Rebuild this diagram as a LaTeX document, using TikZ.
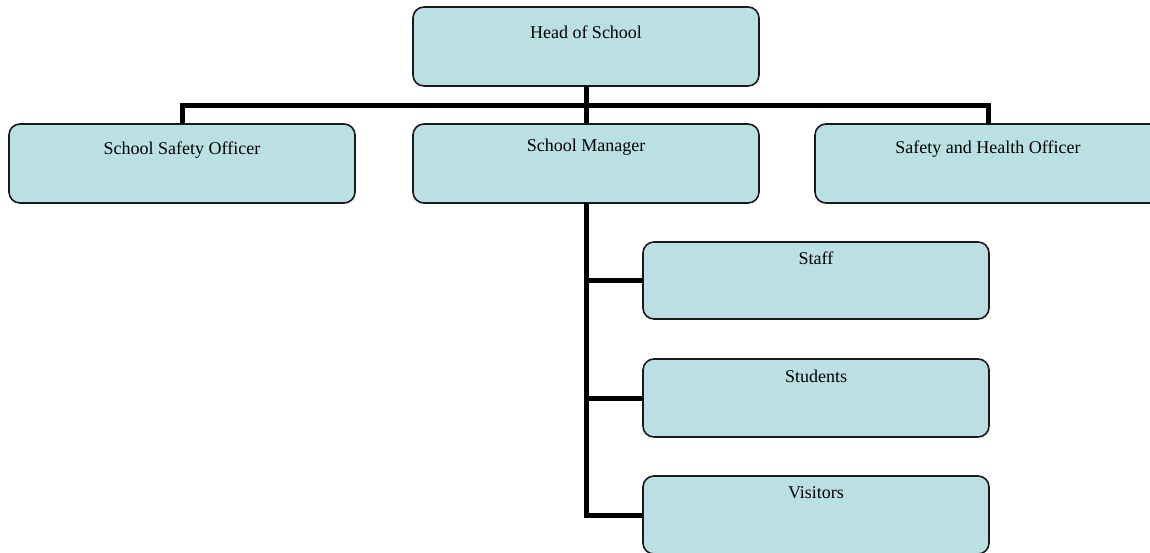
\documentclass[tikz,border=0pt]{standalone}
\usepackage{fontspec}
\setmainfont{Liberation Serif}
\definecolor{boxfill}{RGB}{186,224,228}
\begin{document}
\begin{tikzpicture}[x=1pt,y=1pt,
  orgbox/.style={draw=black!90, line width=1.6pt, fill=boxfill, rounded corners=11pt,
    minimum width=346pt, inner sep=0pt, outer sep=0pt},
  lbl/.style={font=\fontsize{18}{21}\selectfont, inner sep=0pt, anchor=center},
  conn/.style={line width=5pt, line join=miter, line cap=butt}]
\useasboundingbox (0,0) rectangle (1150,-552);
\clip (0,0) rectangle (1150,-552);
% connectors first (behind boxes)
\coordinate (bus) at (587,-105.5);
% boxes
\node[orgbox, minimum height=79pt] (hos) at (586,-46.5) {};
\node[orgbox, minimum height=79pt] (sso) at (182,-163.5) {};
\node[orgbox, minimum height=79pt] (sm) at (586,-163.5) {};
\node[orgbox, minimum height=79pt] (sho) at (988,-163.5) {};
\node[orgbox, minimum height=77pt] (staff) at (816,-280.5) {};
\node[orgbox, minimum height=78pt] (students) at (816,-398) {};
\node[orgbox, minimum height=78pt] (visitors) at (816,-515) {};
% connectors
\draw[conn] (hos.south) -- (sm.north);
\draw[conn] (sso.north) |- (bus) -| (sho.north);
\draw[conn] (sm.south) |- (visitors.west);
\draw[conn] (sm.south |- staff.west) -- (staff.west);
\draw[conn] (sm.south |- students.west) -- (students.west);
% labels
\node[lbl] (thos) at ([yshift=-25pt]hos.north) {Head of School};
\node[lbl] (tsso) at ([yshift=-26pt]sso.north) {School Safety Officer};
\node[lbl] (tsm) at ([yshift=-23pt]sm.north) {School Manager};
\node[lbl] (tsho) at ([yshift=-25pt]sho.north) {Safety and Health Officer};
\node[lbl] (tstaff) at ([yshift=-16.5pt]staff.north) {Staff};
\node[lbl] (tstudents) at ([yshift=-17pt]students.north) {Students};
\node[lbl] (tvisitors) at ([yshift=-17pt]visitors.north) {Visitors};
\end{tikzpicture}
\end{document}
